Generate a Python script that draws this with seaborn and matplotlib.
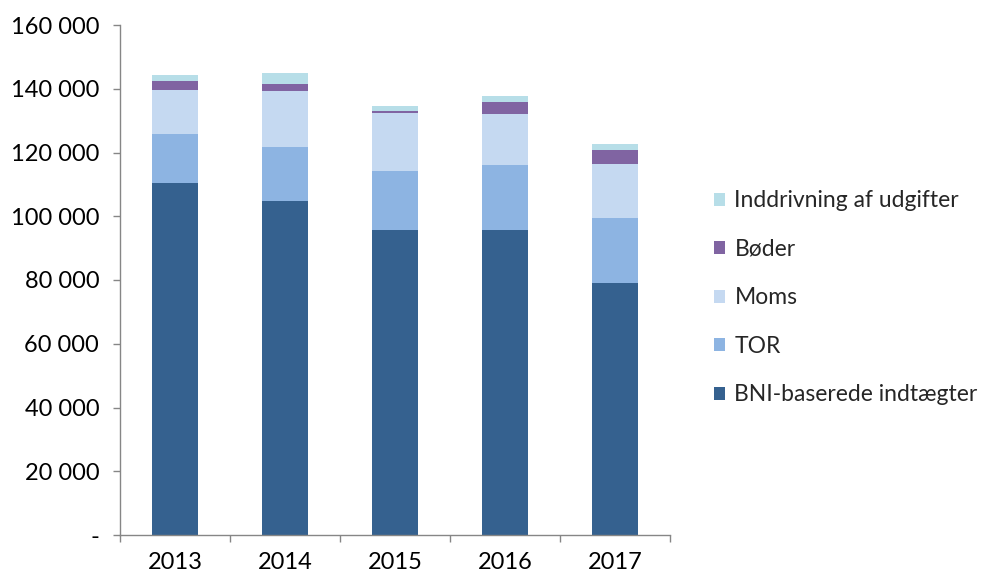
import numpy as np
import pandas as pd
import matplotlib
matplotlib.use("Agg")
import matplotlib.pyplot as plt
import seaborn as sns
from matplotlib.patches import Patch
from matplotlib.ticker import FuncFormatter, FixedLocator

years = ["2013", "2014", "2015", "2016", "2017"]
bni = [110400, 104900, 95700, 95700, 79000]
tor = [15400, 16900, 18500, 20400, 20500]
moms = [13900, 17500, 18200, 15900, 16800]
boder = [2700, 2200, 600, 3700, 4600]
inddrivning = [1900, 3500, 1600, 2000, 1900]

series_names = ["BNI-baserede indtægter", "TOR", "Moms", "Bøder", "Inddrivning af udgifter"]
series_vals = [bni, tor, moms, boder, inddrivning]
colors = ["#35618F", "#8DB4E2", "#C5D9F1", "#8064A2", "#B7DEE8"]

sns.set_theme(style="white")
plt.rcParams['font.family'] = ['Lato', 'DejaVu Sans']

FS = 17

fig = plt.figure(figsize=(9.97, 5.76), dpi=100)
ax = fig.add_axes([120/997, 41/576, 550/997, 510/576])

cum = np.cumsum(np.array(series_vals, dtype=float), axis=0)
# draw from top layer down so each lower layer covers part of the one above
for i in range(len(series_names) - 1, -1, -1):
    df = pd.DataFrame({"year": years, "value": cum[i]})
    sns.barplot(data=df, x="year", y="value", order=years, color=colors[i],
                width=0.41, saturation=1, ax=ax, edgecolor="none", linewidth=0,
                errorbar=None)

ax.set_xlim(-0.5, 4.5)
ax.set_ylim(0, 160000)
ax.set_xlabel("")
ax.set_ylabel("")
ax.set_yticks(np.arange(0, 160001, 20000))

def fmt(v, pos):
    if v == 0:
        return "-"
    return f"{int(v):,}".replace(",", " ")

ax.yaxis.set_major_formatter(FuncFormatter(fmt))

for s in ["top", "right"]:
    ax.spines[s].set_visible(False)
for s in ["left", "bottom"]:
    ax.spines[s].set_color("#868686")
    ax.spines[s].set_linewidth(1.0)

ax.tick_params(axis="y", which="major", direction="out", length=5, width=1,
               color="#868686", labelsize=FS, labelcolor="black", pad=10, left=True)
ax.tick_params(axis="x", which="major", length=0, labelsize=FS, labelcolor="black", pad=12)
ax.xaxis.set_minor_locator(FixedLocator(np.arange(-0.5, 4.6, 1.0)))
ax.tick_params(axis="x", which="minor", direction="out", length=5, width=1,
               color="#868686", bottom=True)

handles = [Patch(facecolor=colors[i], edgecolor="none", label=series_names[i])
           for i in range(len(series_names) - 1, -1, -1)]
fig.legend(handles=handles, loc="center left", bbox_to_anchor=(0.716, 0.483),
           frameon=False, fontsize=16.5, labelspacing=1.2, handlelength=0.5,
           handleheight=0.5, handletextpad=0.4, borderpad=0, borderaxespad=0)

fig.savefig("out.png", dpi=100)
